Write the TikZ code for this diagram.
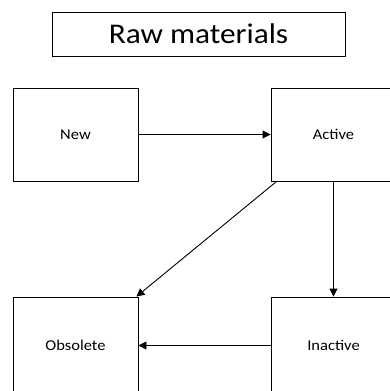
\documentclass[tikz,border=0pt]{standalone}
\usepackage{fontspec}
\setmainfont{Carlito}[FakeStretch=1.1]
\usetikzlibrary{arrows.meta}
\begin{document}
\begin{tikzpicture}[x=1pt,y=-1pt,
  statebox/.style={draw, line width=0.9pt, inner sep=0pt,
    minimum width=125pt, minimum height=93pt, font=\fontsize{15}{18}\selectfont},
  titlebox/.style={draw, line width=0.9pt, inner sep=0pt,
    minimum width=293pt, minimum height=44pt, font=\fontsize{28.5}{32}\selectfont},
  flow/.style={line width=0.9pt, -{Triangle[length=8pt,width=8pt]}}]
\useasboundingbox (0,0) rectangle (390,391);
\clip (0,0) rectangle (390,391);
% title
\node[titlebox] (title) at (198.5,34) {Raw materials};
% states; the right column and the bottom row run past the edge of the page
\node[statebox] (new) at (75.5,134.5) {New};
\node[statebox] (act) at (333.5,134.5) {Active};
\node[statebox, minimum height=97pt] (obs) at (75.5,345.5) {Obsolete};
\node[statebox, minimum height=97pt] (ina) at (333.5,345.5) {Inactive};
% transitions
\draw[flow] (new.east) -- (act.west);
\draw[flow] (act.south) -- (ina.north);
\draw[flow] (ina.west) -- (obs.east);
\draw[flow] ([xshift=6pt]act.south west) -- ([xshift=-2pt]obs.north east);
\end{tikzpicture}
\end{document}
